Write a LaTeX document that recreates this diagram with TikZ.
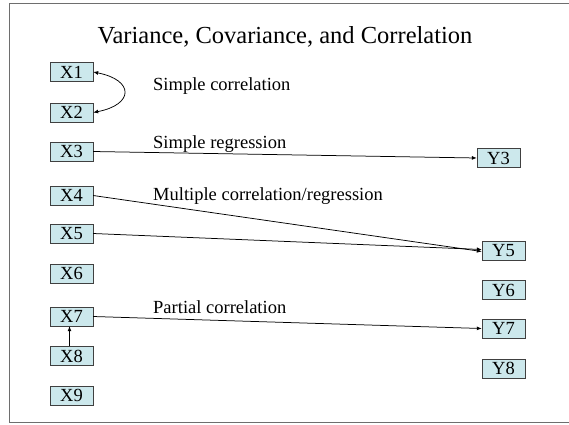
\documentclass[tikz,border=0pt]{standalone}
\usepackage{fontspec}
\setmainfont{Liberation Serif}
\usetikzlibrary{arrows.meta,positioning}
\definecolor{boxfill}{RGB}{204,232,236}
\definecolor{framegray}{RGB}{110,110,110}

\tikzset{
  var/.style={draw=black!75, fill=boxfill, minimum width=43pt, minimum height=19pt,
    inner sep=0pt, font=\fontsize{18.5}{18}\selectfont},
  lbl/.style={anchor=base west, inner sep=0pt, font=\fontsize{18.5}{18}\selectfont},
  link/.style={-{Latex[length=5pt,width=4pt]}, line width=0.75pt}
}

\begin{document}
\begin{tikzpicture}[x=1pt, y=-1pt]
  \useasboundingbox (0,0) rectangle (569,424);
  % Cadre
  \draw[framegray, line width=1pt] (575,3) -- (9,3) -- (9,422) -- (575,422);
  % Titre
  \node[font=\fontsize{24.5}{24}\selectfont] (title) at (285,37) {Variance, Covariance, and Correlation};
  % Variables X
  \node[var] (X1) at (71.5,72) {X1};
  \node[var] (X2) at (71.5,112.5) {X2};
  \node[var] (X3) at (71.5,151.5) {X3};
  \node[var] (X4) at (71.5,195.5) {X4};
  \node[var] (X5) at (71.5,233.5) {X5};
  \node[var] (X6) at (71.5,273.5) {X6};
  \node[var] (X7) at (71.5,316.5) {X7};
  \node[var] (X8) at (71.5,356) {X8};
  \node[var] (X9) at (71.5,395.5) {X9};
  % Variables Y
  \node[var] (Y3) at (498.5,158) {Y3};
  \node[var] (Y5) at (503.5,250.5) {Y5};
  \node[var] (Y6) at (503.5,290) {Y6};
  \node[var] (Y7) at (503.5,328.5) {Y7};
  \node[var] (Y8) at (503.5,368.5) {Y8};
  % Textes
  \node[lbl] (simcor) at (153,90) {Simple correlation};
  \node[lbl] (simreg) at (153,148) {Simple regression};
  \node[lbl] (multi) at (153,200) {Multiple correlation/regression};
  \node[lbl] (partial) at (153,313) {Partial correlation};
  % Liens
  \draw[link, {Latex[length=5pt,width=4pt]}-{Latex[length=5pt,width=4pt]}]
    (X1.east) .. controls +(41,8) and +(41,-8) .. (X2.east);
  \draw[link] (X3.east) -- (Y3.west);
  \draw[link] (X4.east) -- ([yshift=-1]Y5.west);
  \draw[link] (X5.east) -- ([yshift=1]Y5.west);
  \draw[link] (X7.east) -- (Y7.west);
  \draw[link] ([xshift=-2]X8.north) -- ([xshift=-2]X7.south);
\end{tikzpicture}
\end{document}
